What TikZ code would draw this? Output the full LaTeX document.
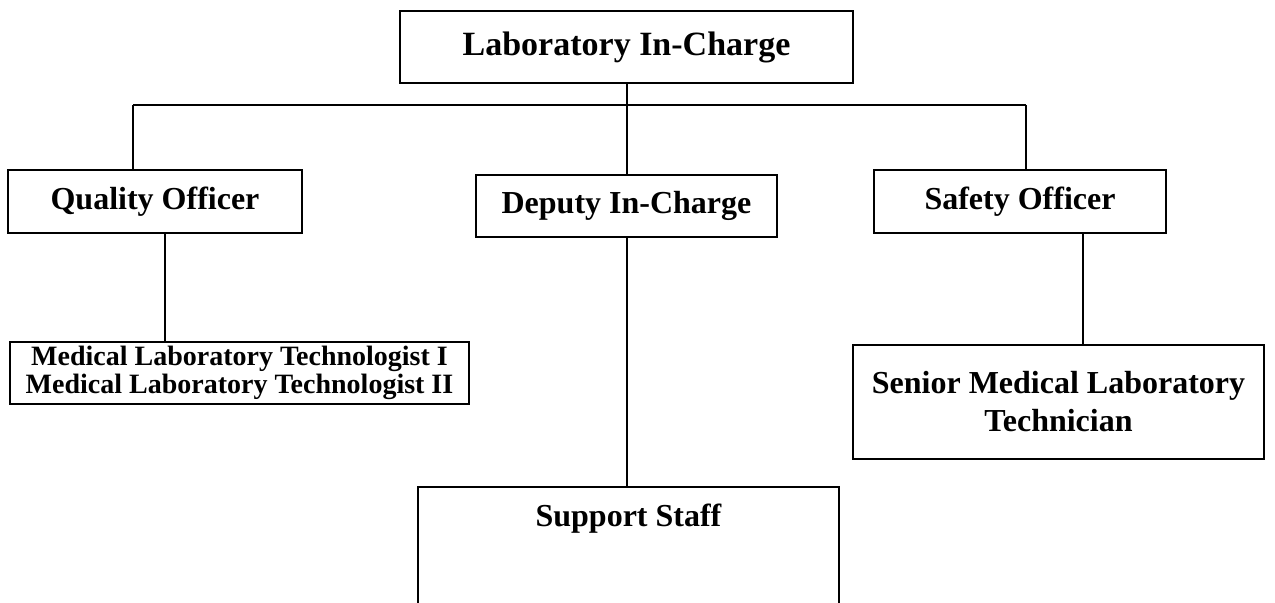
\documentclass[tikz,border=0pt]{standalone}
\usepackage{fontspec}
\setmainfont{Liberation Serif}
\begin{document}
\begin{tikzpicture}[x=0.5pt,y=-0.5pt,
  box/.style={draw, line width=1pt, inner sep=0pt, align=center, font=\bfseries\fontsize{16}{19}\selectfont},
  small/.style={font=\bfseries\fontsize{14}{12}\selectfont},
  conn/.style={line width=1pt}]
\useasboundingbox (0,0) rectangle (1275,603);
\node[box, font=\bfseries\fontsize{17}{20}\selectfont, minimum width=226.5pt, minimum height=36pt] (top) at (626.5,47) {Laboratory In-Charge};
\node[box, minimum width=147pt, minimum height=31.5pt] (qo) at (155,201.5) {Quality Officer};
\node[box, minimum width=150.5pt, minimum height=31pt] (di) at (626.5,206) {Deputy In-Charge};
\node[box, minimum width=146pt, minimum height=31.5pt] (so) at (1020,201.5) {Safety Officer};
\node[box, small, minimum width=229.5pt, minimum height=31pt] (mlt) at (239.5,373) {Medical Laboratory Technologist I\\Medical Laboratory Technologist II};
\node[box, minimum width=205.5pt, minimum height=57pt] (smlt) at (1058.5,402) {Senior Medical Laboratory\\Technician};
\node[box, minimum width=210.5pt, minimum height=65pt, text height=11pt, text depth=36pt] (ss) at (628.5,552) {Support Staff};
\coordinate (bus) at (626.5,105);
\coordinate (busL) at (133,105);
\coordinate (busR) at (1026,105);
\coordinate (qx) at (165,0);
\coordinate (sx) at (1083,0);
\draw[conn] (top.south) -- (bus);
\draw[conn] (busL) -- (busR);
\draw[conn] (busL) -- (busL |- qo.north);
\draw[conn] (busR) -- (busR |- so.north);
\draw[conn] (bus) -- (di.north);
\draw[conn] (qx |- qo.south) -- (qx |- mlt.north);
\draw[conn] (sx |- so.south) -- (sx |- smlt.north);
\draw[conn] (di.south) -- (di.south |- ss.north);
\end{tikzpicture}
\end{document}
